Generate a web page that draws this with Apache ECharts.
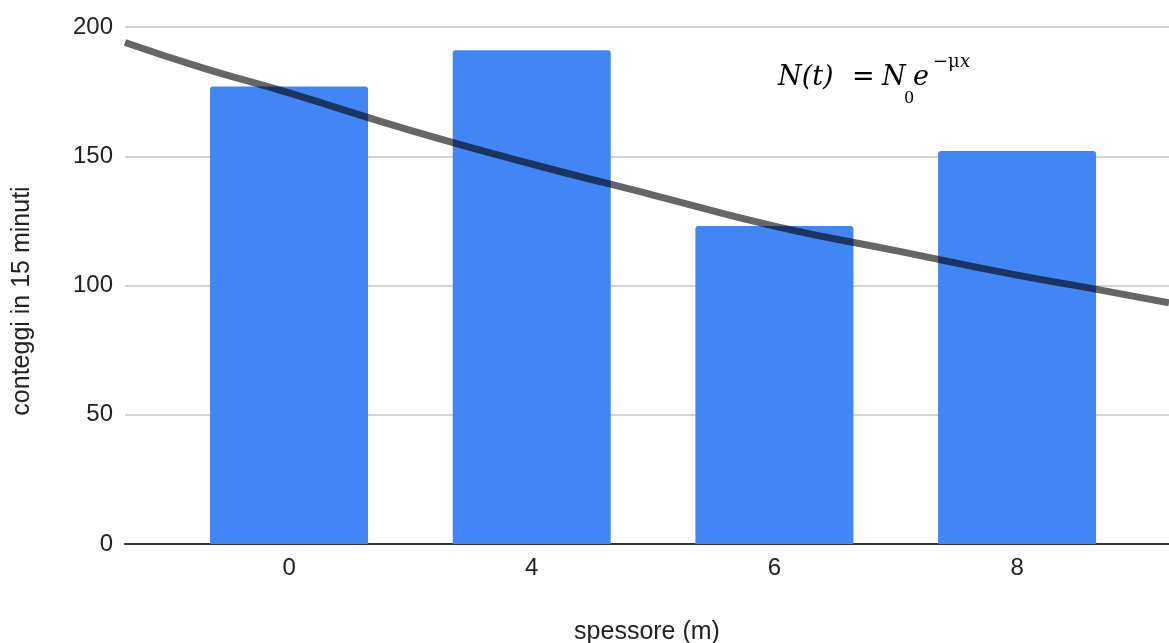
<!DOCTYPE html>
<html>
<head>
<meta charset="utf-8">
<script src="https://cdn.jsdelivr.net/npm/echarts@6/dist/echarts.min.js"></script>
<style>
html,body{margin:0;padding:0;background:#fff;}
#chart{width:1169px;height:643px;}
</style>
</head>
<body>
<div id="chart"></div>
<script>
// Data
const categories = ['0', '4', '6', '8'];
const counts = [177, 191, 123, 152];
// trend line (x in category-index units)
const trendX = [-0.676, -0.35, 0, 0.5, 1, 1.5, 2, 2.5, 3, 3.3, 3.626];
const trendY = [194, 184, 174.5, 160, 147, 135, 123, 113.5, 104, 99, 93.3];
const yTicks = [0, 50, 100, 150, 200];

const chart = echarts.init(document.getElementById('chart'));
const font = '"Liberation Sans", Arial, sans-serif';
const serif = '"DejaVu Serif", "Liberation Serif", serif';

const option = {
  backgroundColor: '#ffffff',
  animation: false,
  grid: { left: 125, right: 0, top: 27, bottom: 99, containLabel: false, outerBoundsMode: 'none' },
  xAxis: {
    type: 'value',
    min: -0.676,
    max: 3.626,
    name: 'spessore (m)',
    nameLocation: 'middle',
    nameGap: 76,
    nameTextStyle: { fontFamily: font, fontSize: 25, color: '#222' },
    axisLine: { show: true, onZero: false, lineStyle: { color: '#333', width: 2 } },
    axisTick: { show: false },
    splitLine: { show: false },
    axisLabel: {
      customValues: [0, 1, 2, 3],
      formatter: v => categories[Math.round(v)],
      fontFamily: font, fontSize: 24, color: '#222', margin: 12
    }
  },
  yAxis: {
    type: 'value',
    min: yTicks[0],
    max: yTicks[yTicks.length - 1],
    interval: 50,
    axisLine: { show: false },
    axisTick: { show: false },
    axisLabel: { fontFamily: font, fontSize: 24, color: '#222', margin: 12 },
    splitLine: { lineStyle: { color: '#d4d4d4', width: 2 } }
  },
  series: [
    {
      type: 'bar',
      data: counts.map((v, i) => [i, v]),
      barWidth: 158,
      itemStyle: { color: '#4285f4', borderRadius: [3, 3, 0, 0] },
      z: 2
    },
    {
      type: 'line',
      data: trendX.map((x, i) => [x, trendY[i]]),
      smooth: true,
      symbol: 'none',
      lineStyle: { color: 'rgba(0,0,0,0.6)', width: 7 },
      z: 3
    }
  ],
  graphic: [
    { type: 'text', x: 22, y: 301, rotation: Math.PI / 2,
      style: { text: 'conteggi in 15 minuti', font: '25px ' + font, fill: '#222', align: 'center', verticalAlign: 'middle' } },
    { type: 'text', x: 778, y: 78, style: { text: 'N(t)', font: 'italic 27px ' + serif, fill: '#000', verticalAlign: 'middle' } },
    { type: 'text', x: 852, y: 78, style: { text: '=', font: '27px ' + serif, fill: '#000', verticalAlign: 'middle' } },
    { type: 'text', x: 882, y: 78, style: { text: 'N', font: 'italic 27px ' + serif, fill: '#000', verticalAlign: 'middle' } },
    { type: 'text', x: 904, y: 99, style: { text: '0', font: '16px ' + serif, fill: '#000', verticalAlign: 'middle' } },
    { type: 'text', x: 913, y: 78, style: { text: 'e', font: 'italic 27px ' + serif, fill: '#000', verticalAlign: 'middle' } },
    { type: 'text', x: 933, y: 62, style: { text: '−μ', font: '18px ' + serif, fill: '#000', verticalAlign: 'middle' } },
    { type: 'text', x: 960, y: 62, style: { text: 'x', font: 'italic 18px ' + serif, fill: '#000', verticalAlign: 'middle' } }
  ]
};
chart.setOption(option);
</script>
</body>
</html>
